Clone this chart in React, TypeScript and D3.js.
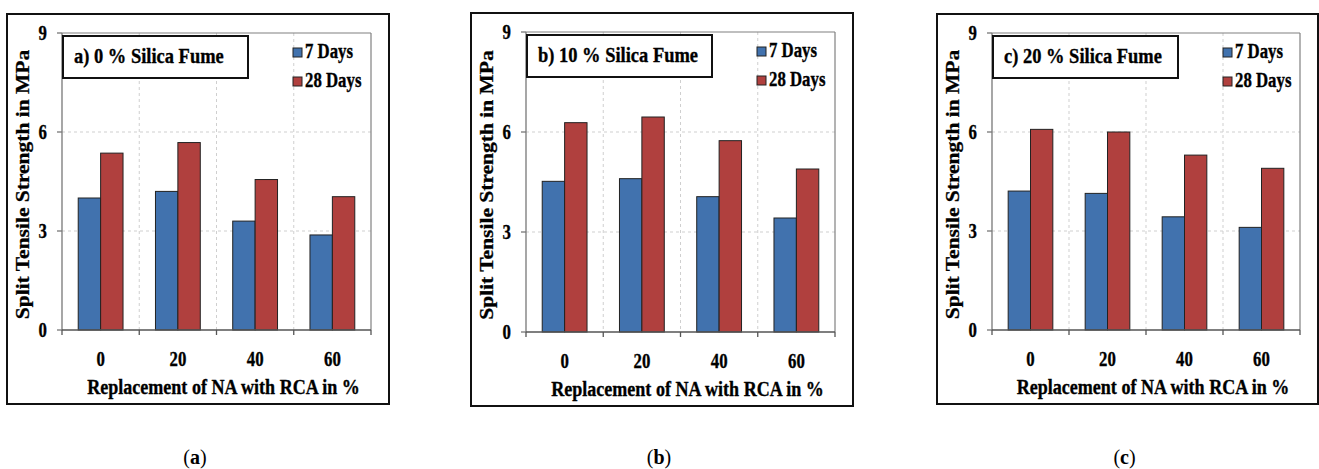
import React from "react";
import * as d3 from "d3";

const categories = ["0", "20", "40", "60"];
const seriesNames = ["7 Days", "28 Days"];
const yTicks = [0, 3, 6, 9];

const days7A = [4.0, 4.2, 3.3, 2.88];
const days28A = [5.36, 5.68, 4.56, 4.04];
const days7B = [4.52, 4.6, 4.06, 3.42];
const days28B = [6.28, 6.45, 5.74, 4.89];
const days7C = [4.21, 4.14, 3.43, 3.11];
const days28C = [6.08, 6.0, 5.3, 4.9];

const panelTitles = ["a) 0 % Silica Fume", "b) 10 % Silica Fume", "c) 20 % Silica Fume"];
const captionLetters = ["a", "b", "c"];
const yTitle = "Split Tensile Strength in MPa";
const xTitle = "Replacement of NA with RCA in %";

const panelData = [
  [days7A, days28A],
  [days7B, days28B],
  [days7C, days28C],
];

// layout (frame boxes)
const frames = [
  [7, 14, 389, 404],
  [471, 13, 853, 406],
  [937, 14, 1318, 404],
];

const COLORS = ["#4172ae", "#b0403e"];
const SX = 0.84;
const FONT = "Liberation Serif, Times New Roman, serif";

function HText({ x, y, size, anchor = "start", children }: any) {
  return (
    <g transform={`translate(${x},${y}) scale(${SX},1)`}>
      <text x={0} y={0} fontFamily={FONT} fontWeight="bold" fontSize={size} textAnchor={anchor} fill="#000" stroke="#000" strokeWidth={0.35}>
        {children}
      </text>
    </g>
  );
}

function Panel({ idx }: { idx: number }) {
  const [fx0, fy0, fx1, fy1] = frames[idx];
  const left = fx0 + 55;
  const top = fy0 + 19;
  const right = fx1 - 18;
  const bottom = fy1 - 74;
  const y = d3.scaleLinear().domain([0, 9]).range([bottom, top]);
  const x0 = d3.scaleBand<string>().domain(categories).range([left, right]).paddingInner(0.42).paddingOuter(0.21);
  const x1 = d3.scaleBand<string>().domain(seriesNames).range([0, x0.bandwidth()]);
  const step = x0.step();
  const boundaries = d3.range(categories.length + 1).map((i) => left + i * step);
  const data = panelData[idx];

  return (
    <g>
      <rect x={fx0} y={fy0} width={fx1 - fx0} height={fy1 - fy0} fill="#fff" stroke="#111" strokeWidth={2} />
      {yTicks.filter((t) => t > 0 && t < 9).map((t) => (
        <line key={"h" + t} x1={left} x2={right} y1={y(t)} y2={y(t)} stroke="#cfcfcf" strokeDasharray="3,3" />
      ))}
      {boundaries.slice(1, -1).map((bx, i) => (
        <line key={"v" + i} x1={bx} x2={bx} y1={top} y2={bottom} stroke="#cfcfcf" strokeDasharray="3,3" />
      ))}
      <line x1={left} x2={right} y1={top} y2={top} stroke="#808080" strokeWidth={1.2} />
      <line x1={right} x2={right} y1={top} y2={bottom} stroke="#808080" strokeWidth={1.2} />
      {categories.map((c, ci) =>
        seriesNames.map((s, si) => (
          <rect
            key={c + s}
            x={(x0(c) as number) + (x1(s) as number)}
            y={y(data[si][ci])}
            width={x1.bandwidth()}
            height={bottom - y(data[si][ci])}
            fill={COLORS[si]}
            stroke="#222"
            strokeWidth={1}
          />
        ))
      )}
      <line x1={left} x2={left} y1={top} y2={bottom} stroke="#777" strokeWidth={1.3} />
      {yTicks.map((t) => (
        <g key={"yt" + t}>
          <line x1={left - 5} x2={left} y1={y(t)} y2={y(t)} stroke="#777" strokeWidth={1.3} />
          <HText x={left - 15} y={y(t) + 7} size={20} anchor="end">{String(t)}</HText>
        </g>
      ))}
      <line x1={left} x2={right} y1={bottom} y2={bottom} stroke="#555" strokeWidth={1.3} />
      {boundaries.map((bx, i) => (
        <line key={"xt" + i} x1={bx} x2={bx} y1={bottom} y2={bottom + 5} stroke="#555" strokeWidth={1.3} />
      ))}
      {categories.map((c) => (
        <HText key={"xl" + c} x={(x0(c) as number) + x0.bandwidth() / 2} y={bottom + 36} size={20} anchor="middle">
          {c}
        </HText>
      ))}
      <HText x={(left + right) / 2 + 7} y={bottom + 64} size={21.5} anchor="middle">{xTitle}</HText>
      <g transform={`translate(${fx0 + 22},${(top + bottom) / 2 + 3}) rotate(-90) scale(1,${SX})`}>
        <text x={0} y={0} fontFamily={FONT} fontWeight="bold" fontSize={21.5} textAnchor="middle" fill="#000" stroke="#000" strokeWidth={0.35}>
          {yTitle}
        </text>
      </g>
      <rect x={left + 1} y={top + 3} width={185} height={42} fill="#fff" stroke="#111" strokeWidth={2} />
      <HText x={left + 12} y={top + 30} size={22}>{panelTitles[idx]}</HText>
      {seriesNames.map((s, si) => (
        <g key={"lg" + s}>
          <rect x={left + 231} y={top + 15 + si * 29} width={9} height={9} fill={COLORS[si]} stroke="#222" strokeWidth={1} />
          <HText x={left + 243} y={top + 25 + si * 29} size={20}>{s}</HText>
        </g>
      ))}
      <text x={(fx0 + fx1) / 2 - 3} y={464} fontFamily={FONT} fontSize={20} textAnchor="middle" fill="#000">
        (<tspan fontWeight="bold">{captionLetters[idx]}</tspan>)
      </text>
    </g>
  );
}

export default function App() {
  return (
    <div style={{ position: "absolute", left: 0, top: 0 }}>
      <svg width={1319} height={469} style={{ display: "block", background: "#fff" }}>
        <rect x={0} y={0} width={1319} height={469} fill="#fff" />
        {[0, 1, 2].map((i) => (
          <Panel key={i} idx={i} />
        ))}
      </svg>
    </div>
  );
}
